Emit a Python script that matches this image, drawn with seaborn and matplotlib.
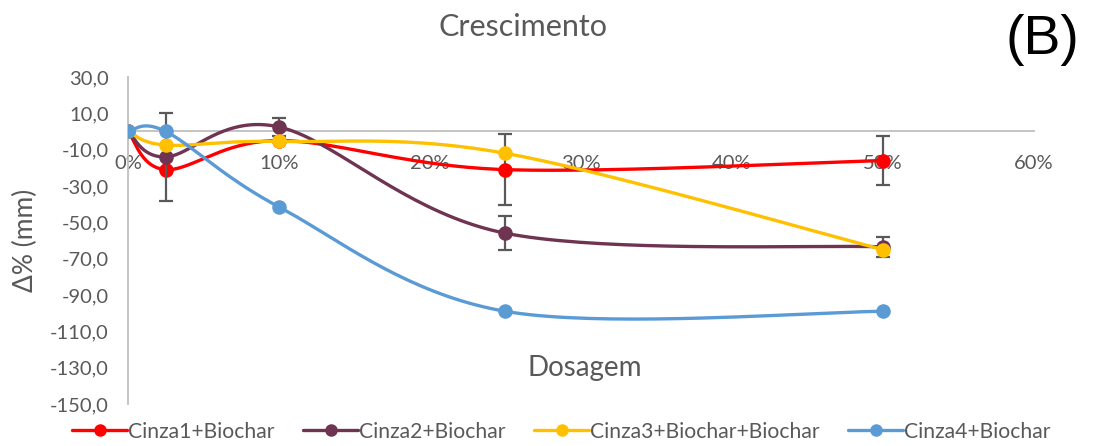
import numpy as np
import matplotlib
matplotlib.use("Agg")
import matplotlib.pyplot as plt
import pandas as pd
import seaborn as sns

# data
dosagem = [0, 2.5, 10, 25, 50]
series_names = ["Cinza1+Biochar", "Cinza2+Biochar", "Cinza3+Biochar+Biochar", "Cinza4+Biochar"]
cinza1 = [0, -21, -5, -21, -16]
cinza2 = [0, -14, 2.5, -56, -63.5]
cinza3 = [0, -7.5, -5.5, -12, -65]
cinza4 = [0, 0, -41.5, -99, -99]
cinza1_err = [0, 0, 0, 19.5, 13.7]
cinza2_err = [0, 24, 5, 9.5, 5.5]
colors = ["#FF0000", "#6E3451", "#FFC000", "#5B9BD5"]

sns.set_theme(style="white")
plt.rcParams["font.family"] = ["Lato", "DejaVu Sans"]


def smooth(xs, ys, sx=15.1, sy=1.817, n=40):
    # Excel-like smoothed line: cubic bezier through points (in pixel-ish space)
    P = np.column_stack([np.array(xs) * sx, np.array(ys) * sy])
    pts = []
    for i in range(len(P) - 1):
        p0 = P[i - 1] if i > 0 else P[i]
        p1, p2 = P[i], P[i + 1]
        p3 = P[i + 2] if i + 2 < len(P) else P[i + 1]
        c1 = p1 + (p2 - p0) / 6
        c2 = p2 - (p3 - p1) / 6
        t = np.linspace(0, 1, n)[:, None]
        seg = (1 - t) ** 3 * p1 + 3 * (1 - t) ** 2 * t * c1 + 3 * (1 - t) * t ** 2 * c2 + t ** 3 * p2
        pts.append(seg if i == 0 else seg[1:])
    pts = np.vstack(pts)
    return pts[:, 0] / sx, pts[:, 1] / sy


fig = plt.figure(figsize=(11.08, 4.46), dpi=100)
ax = fig.add_axes([0.1155, 0.0942, 0.8175, 0.7332])

all_vals = [cinza1, cinza2, cinza3, cinza4]
errs = {0: cinza1_err, 1: cinza2_err}

for i, (name, vals) in enumerate(zip(series_names, all_vals)):
    sx_, sy_ = smooth(dosagem, vals)
    curve = pd.DataFrame({"x": sx_, "y": sy_})
    sns.lineplot(data=curve, x="x", y="y", sort=False, estimator=None, color=colors[i],
                 lw=2.4, ax=ax, zorder=3 + i)
    if i in errs:
        ax.errorbar(dosagem, vals, yerr=errs[i], fmt="none", ecolor="#595959", elinewidth=1.6,
                    capsize=5, capthick=1.6, zorder=3 + i)
    pts = pd.DataFrame({"x": dosagem, "y": vals})
    sns.scatterplot(data=pts, x="x", y="y", color=colors[i], s=110, edgecolor=colors[i],
                    linewidth=0, ax=ax, zorder=3 + i)
    # legend proxy
    ax.plot([], [], color=colors[i], lw=2.4, marker="o", ms=8, label=name)

ax.set_xlim(0, 60)
ax.set_ylim(-150, 30)
ax.set_yticks(np.arange(-150, 31, 20))
ax.set_yticklabels([f"{v:.1f}".replace(".", ",") for v in np.arange(-150, 31, 20)])
ax.set_xticks(range(0, 61, 10))
ax.set_xticklabels([f"{v}%" for v in range(0, 61, 10)])

for s in ["top", "right"]:
    ax.spines[s].set_visible(False)
ax.spines["left"].set_color("#BFBFBF")
ax.spines["left"].set_linewidth(1.3)
ax.spines["bottom"].set_position(("data", 0))
ax.spines["bottom"].set_color("#BFBFBF")
ax.spines["bottom"].set_linewidth(1.3)
ax.tick_params(axis="both", length=0, labelsize=14.5, labelcolor="#595959")
ax.tick_params(axis="y", pad=14)
ax.tick_params(axis="x", pad=17)

ax.set_xlabel("Dosagem", fontsize=20, color="#595959")
ax.xaxis.set_label_coords(0.504, 0.15)
ax.set_ylabel("Δ% (mm)", fontsize=19, color="#595959")
ax.yaxis.set_label_coords(-0.099, 0.5)

fig.text(523 / 1108, 1 - 27 / 446, "Crescimento", fontsize=22, color="#595959",
         ha="center", va="center")
fig.text(1042 / 1108, 1 - 40 / 446, "(B)", fontsize=40, color="black",
         ha="center", va="center", family="Liberation Sans")

ax.legend(loc="center left", bbox_to_anchor=(64 / 906 - 128 / 906, -0.085), ncol=4,
          frameon=False, fontsize=15.2, labelcolor="#595959", handlelength=2.6,
          handletextpad=0.05, columnspacing=1.35, borderaxespad=0)

fig.savefig("out.png", dpi=100)
